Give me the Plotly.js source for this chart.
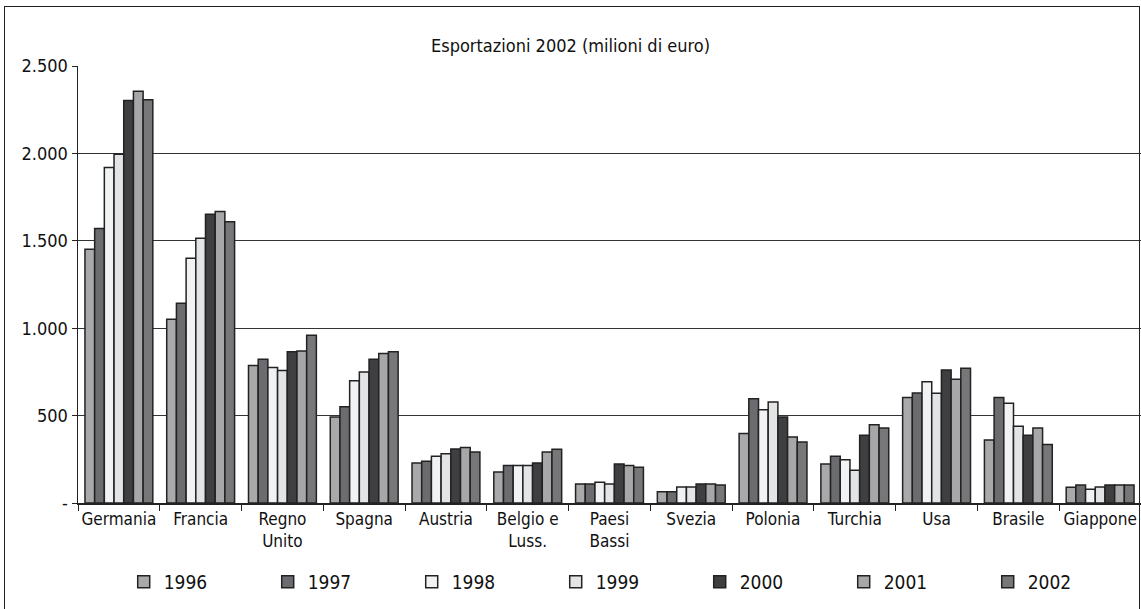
<!DOCTYPE html>
<html><head><meta charset="utf-8">
<script src="https://cdn.plot.ly/plotly-3.0.1.min.js"></script>
<style>
html,body{margin:0;padding:0;background:#fff;}
#chart{width:1141px;height:609px;position:absolute;left:0;top:0;}
#frame{position:absolute;left:4px;top:6px;width:1134px;height:620px;border:1.5px solid #222;pointer-events:none;}
</style></head>
<body>
<div id="chart"></div>
<div id="frame"></div>
<script>
const categories = ["Germania","Francia","Regno<br>Unito","Spagna","Austria","Belgio e<br>Luss.","Paesi<br>Bassi","Svezia","Polonia","Turchia","Usa","Brasile","Giappone"];
const years = ["1996","1997","1998","1999","2000","2001","2002"];
const v1996 = [1451,1051,787,492,229,178,109,65,397,223,603,361,90];
const v1997 = [1571,1143,823,551,239,214,109,65,597,267,630,603,103];
const v1998 = [1919,1400,775,699,267,214,118,92,534,248,693,571,78];
const v1999 = [1995,1514,758,750,282,214,109,92,578,187,628,439,92];
const v2000 = [2303,1652,865,823,309,229,223,109,492,387,761,387,103];
const v2001 = [2355,1668,870,855,318,292,214,109,378,448,708,429,103];
const v2002 = [2307,1609,960,865,292,307,204,103,349,429,771,334,103];
const series = [v1996,v1997,v1998,v1999,v2000,v2001,v2002];
const colors = ["#a9a9ab","#6c6c70","#f1f2f3","#e3e4e5","#3f3f41","#a7a7a9","#77777a"];
const yTickVals = [0,500,1000,1500,2000,2500];
const yTickText = ["-","500","1.000","1.500","2.000","2.500"];

const FONT = "'Liberation Sans Narrow','DejaVu Sans Condensed','Roboto Condensed',sans-serif";

const traces = series.map((vals,i)=>({
  type:'bar', name:years[i], x:categories, y:vals,
  marker:{color:colors[i], line:{color:'#222', width:1.5}},
  hoverinfo:'y'
}));

const layout = {
  width:1141, height:609,
  margin:{l:78, r:0, t:66, b:106},
  paper_bgcolor:'#fff', plot_bgcolor:'#fff',
  font:{family:FONT, size:17, color:'#111'},
  title:{text:'Esportazioni 2002 (milioni di euro)', x:0.5, xref:'container', xanchor:'center', y:0.925, yref:'container', yanchor:'middle', font:{family:FONT, size:18, color:'#111'}},
  barmode:'group', bargap:0.17, bargroupgap:0,
  xaxis:{type:'category', automargin:false, tickangle:0, showline:true, linecolor:'#222', linewidth:1.5, ticks:'outside', tickson:'boundaries', ticklen:6, tickcolor:'#222', tickwidth:1, showgrid:false, tickfont:{family:FONT,size:17,color:'#111'}, fixedrange:true},
  yaxis:{range:[0,2500], automargin:false, tickvals:yTickVals, ticktext:yTickText, showline:true, linecolor:'#222', linewidth:1.5, ticks:'outside', ticklen:5, tickcolor:'#222', showgrid:true, gridcolor:'#333', gridwidth:1, zeroline:false, tickfont:{family:FONT,size:18,color:'#111'}, fixedrange:true},
  showlegend:true,
  legend:{orientation:'h', x:0.043, xanchor:'left', y:-0.137, yanchor:'top', yref:'paper', entrywidth:99, entrywidthmode:'pixels', itemwidth:30, font:{family:FONT,size:19,color:'#111'}, bgcolor:'rgba(0,0,0,0)', traceorder:'normal'}
};

Plotly.newPlot('chart', traces, layout, {displayModeBar:false, staticPlot:true});
</script>
</body></html>
